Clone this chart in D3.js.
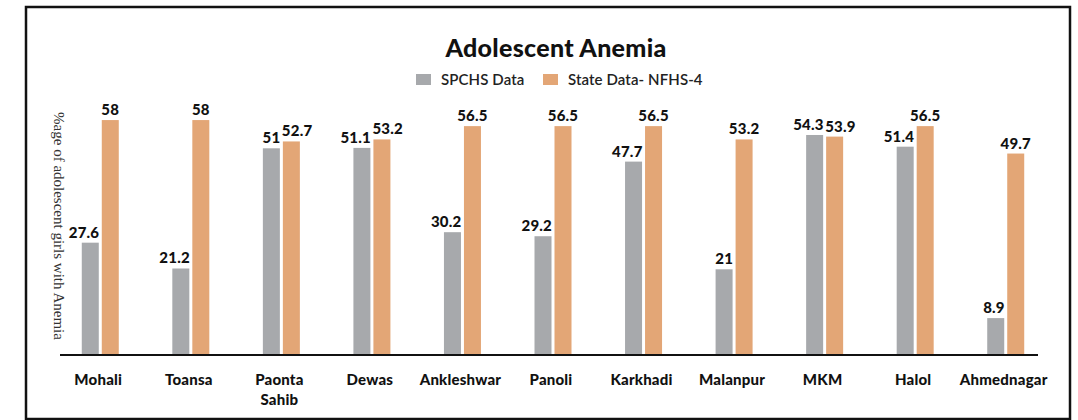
<html><head>
<meta charset="UTF-8">
<title>Adolescent Anemia</title>
<script src="https://cdnjs.cloudflare.com/ajax/libs/d3/7.8.4/d3.min.js"></script>
<style>
  body { margin: 0; background: #fff; }
  svg { display: block; }
  .cat, .val, .title, .legend { font-family: Lato, "Open Sans", sans-serif; fill: #111; }
</style>
</head>
<body>
<div id="chart"></div>
<script>
// data
var sites = ["Mohali", "Toansa", "Paonta Sahib", "Dewas", "Ankleshwar", "Panoli",
             "Karkhadi", "Malanpur", "MKM", "Halol", "Ahmednagar"];
var seriesNames = ["SPCHS Data", "State Data- NFHS-4"];
var spchs = [27.6, 21.2, 51, 51.1, 30.2, 29.2, 47.7, 21, 54.3, 51.4, 8.9];
var nfhs4 = [58, 58, 52.7, 53.2, 56.5, 56.5, 56.5, 53.2, 53.9, 56.5, 49.7];
var colors = ["#a7a9ac", "#e3a676"];

var width = 1078, height = 420;
var svg = d3.select("#chart").append("svg")
    .attr("width", width)
    .attr("height", height);

// frame
svg.append("rect")
    .attr("x", 26).attr("y", 7)
    .attr("width", 1044).attr("height", 412)
    .attr("fill", "none")
    .attr("stroke", "#111")
    .attr("stroke-width", 2.5);

var baseY = 354;
var x = d3.scaleBand().domain(sites).range([55, 1051]).padding(0);
var y = d3.scaleLinear().domain([0, 60]).range([baseY, 112]);
var sub = d3.scaleBand().domain(seriesNames).range([-18.5, 18.5]).paddingInner(0.15);

// title + legend
svg.append("text")
    .attr("class", "title")
    .attr("x", 556).attr("y", 57)
    .attr("text-anchor", "middle")
    .style("font-size", "25px")
    .style("font-weight", "900")
    .style("letter-spacing", "0.3px")
    .text("Adolescent Anemia");

var legendX = [416, 543];
seriesNames.forEach(function(s, i) {
    var g = svg.append("g").attr("transform", "translate(" + legendX[i] + ",74)");
    g.append("rect").attr("width", 15).attr("height", 11).attr("fill", colors[i]);
    g.append("text")
        .attr("class", "legend")
        .attr("x", 25).attr("y", 10.5)
        .style("font-size", "15px")
        .style("font-weight", "600")
        .style("letter-spacing", "0.1px")
        .style("fill", "#222")
        .text(s);
});

// y label
svg.append("text")
    .attr("transform", "translate(54,226) rotate(90)")
    .attr("text-anchor", "middle")
    .style("font-family", "'Liberation Serif', 'DejaVu Serif', serif")
    .style("font-size", "15px")
    .style("fill", "#333")
    .text("%age of adolescent girls with Anemia");

// bars
var rows = sites.map(function(s, i) {
    return { site: s, vals: [spchs[i], nfhs4[i]] };
});

function pairs(d) {
    return d.vals.map(function(v, i) { return { s: seriesNames[i], v: v, i: i, other: d.vals[1 - i] }; });
}

var groups = svg.selectAll("g.site")
    .data(rows)
    .enter().append("g")
    .attr("class", "site")
    .attr("transform", function(d) { return "translate(" + (x(d.site) + x.bandwidth() / 2) + ",0)"; });

groups.selectAll("rect")
    .data(pairs)
    .enter().append("rect")
    .attr("x", function(d) { return sub(d.s); })
    .attr("y", function(d) { return y(d.v); })
    .attr("width", sub.bandwidth())
    .attr("height", function(d) { return baseY - y(d.v); })
    .attr("fill", function(d) { return colors[d.i]; });

// value labels
groups.selectAll("text.val")
    .data(pairs)
    .enter().append("text")
    .attr("class", "val")
    .attr("x", function(d) {
        if (d.i === 0) return sub(d.s) + sub.bandwidth() + 0.5;
        if (Math.abs(d.v - d.other) < 3) return sub(d.s) - 1;
        return sub(d.s) + sub.bandwidth() / 2;
    })
    .attr("y", function(d) { return y(d.v) - 5; })
    .attr("text-anchor", function(d) {
        if (d.i === 0) return "end";
        if (Math.abs(d.v - d.other) < 3) return "start";
        return "middle";
    })
    .style("font-size", "15px")
    .style("font-weight", "900")
    .style("letter-spacing", "0.2px")
    .text(function(d) { return d.v; });

// axis line
svg.append("line")
    .attr("x1", 60).attr("x2", 1038)
    .attr("y1", baseY + 1).attr("y2", baseY + 1)
    .attr("stroke", "#111")
    .attr("stroke-width", 2);

// category labels
svg.selectAll("text.cat")
    .data(sites)
    .enter().append("text")
    .attr("class", "cat")
    .attr("text-anchor", "middle")
    .style("font-size", "15px")
    .style("font-weight", "900")
    .style("letter-spacing", "0.2px")
    .each(function(d) {
        var parts = d.split(" ");
        var t = d3.select(this);
        parts.forEach(function(p, k) {
            t.append("tspan")
                .attr("x", x(d) + x.bandwidth() / 2 - 2)
                .attr("y", 385 + k * 20)
                .text(p);
        });
    });
</script>
</body>
</html>
